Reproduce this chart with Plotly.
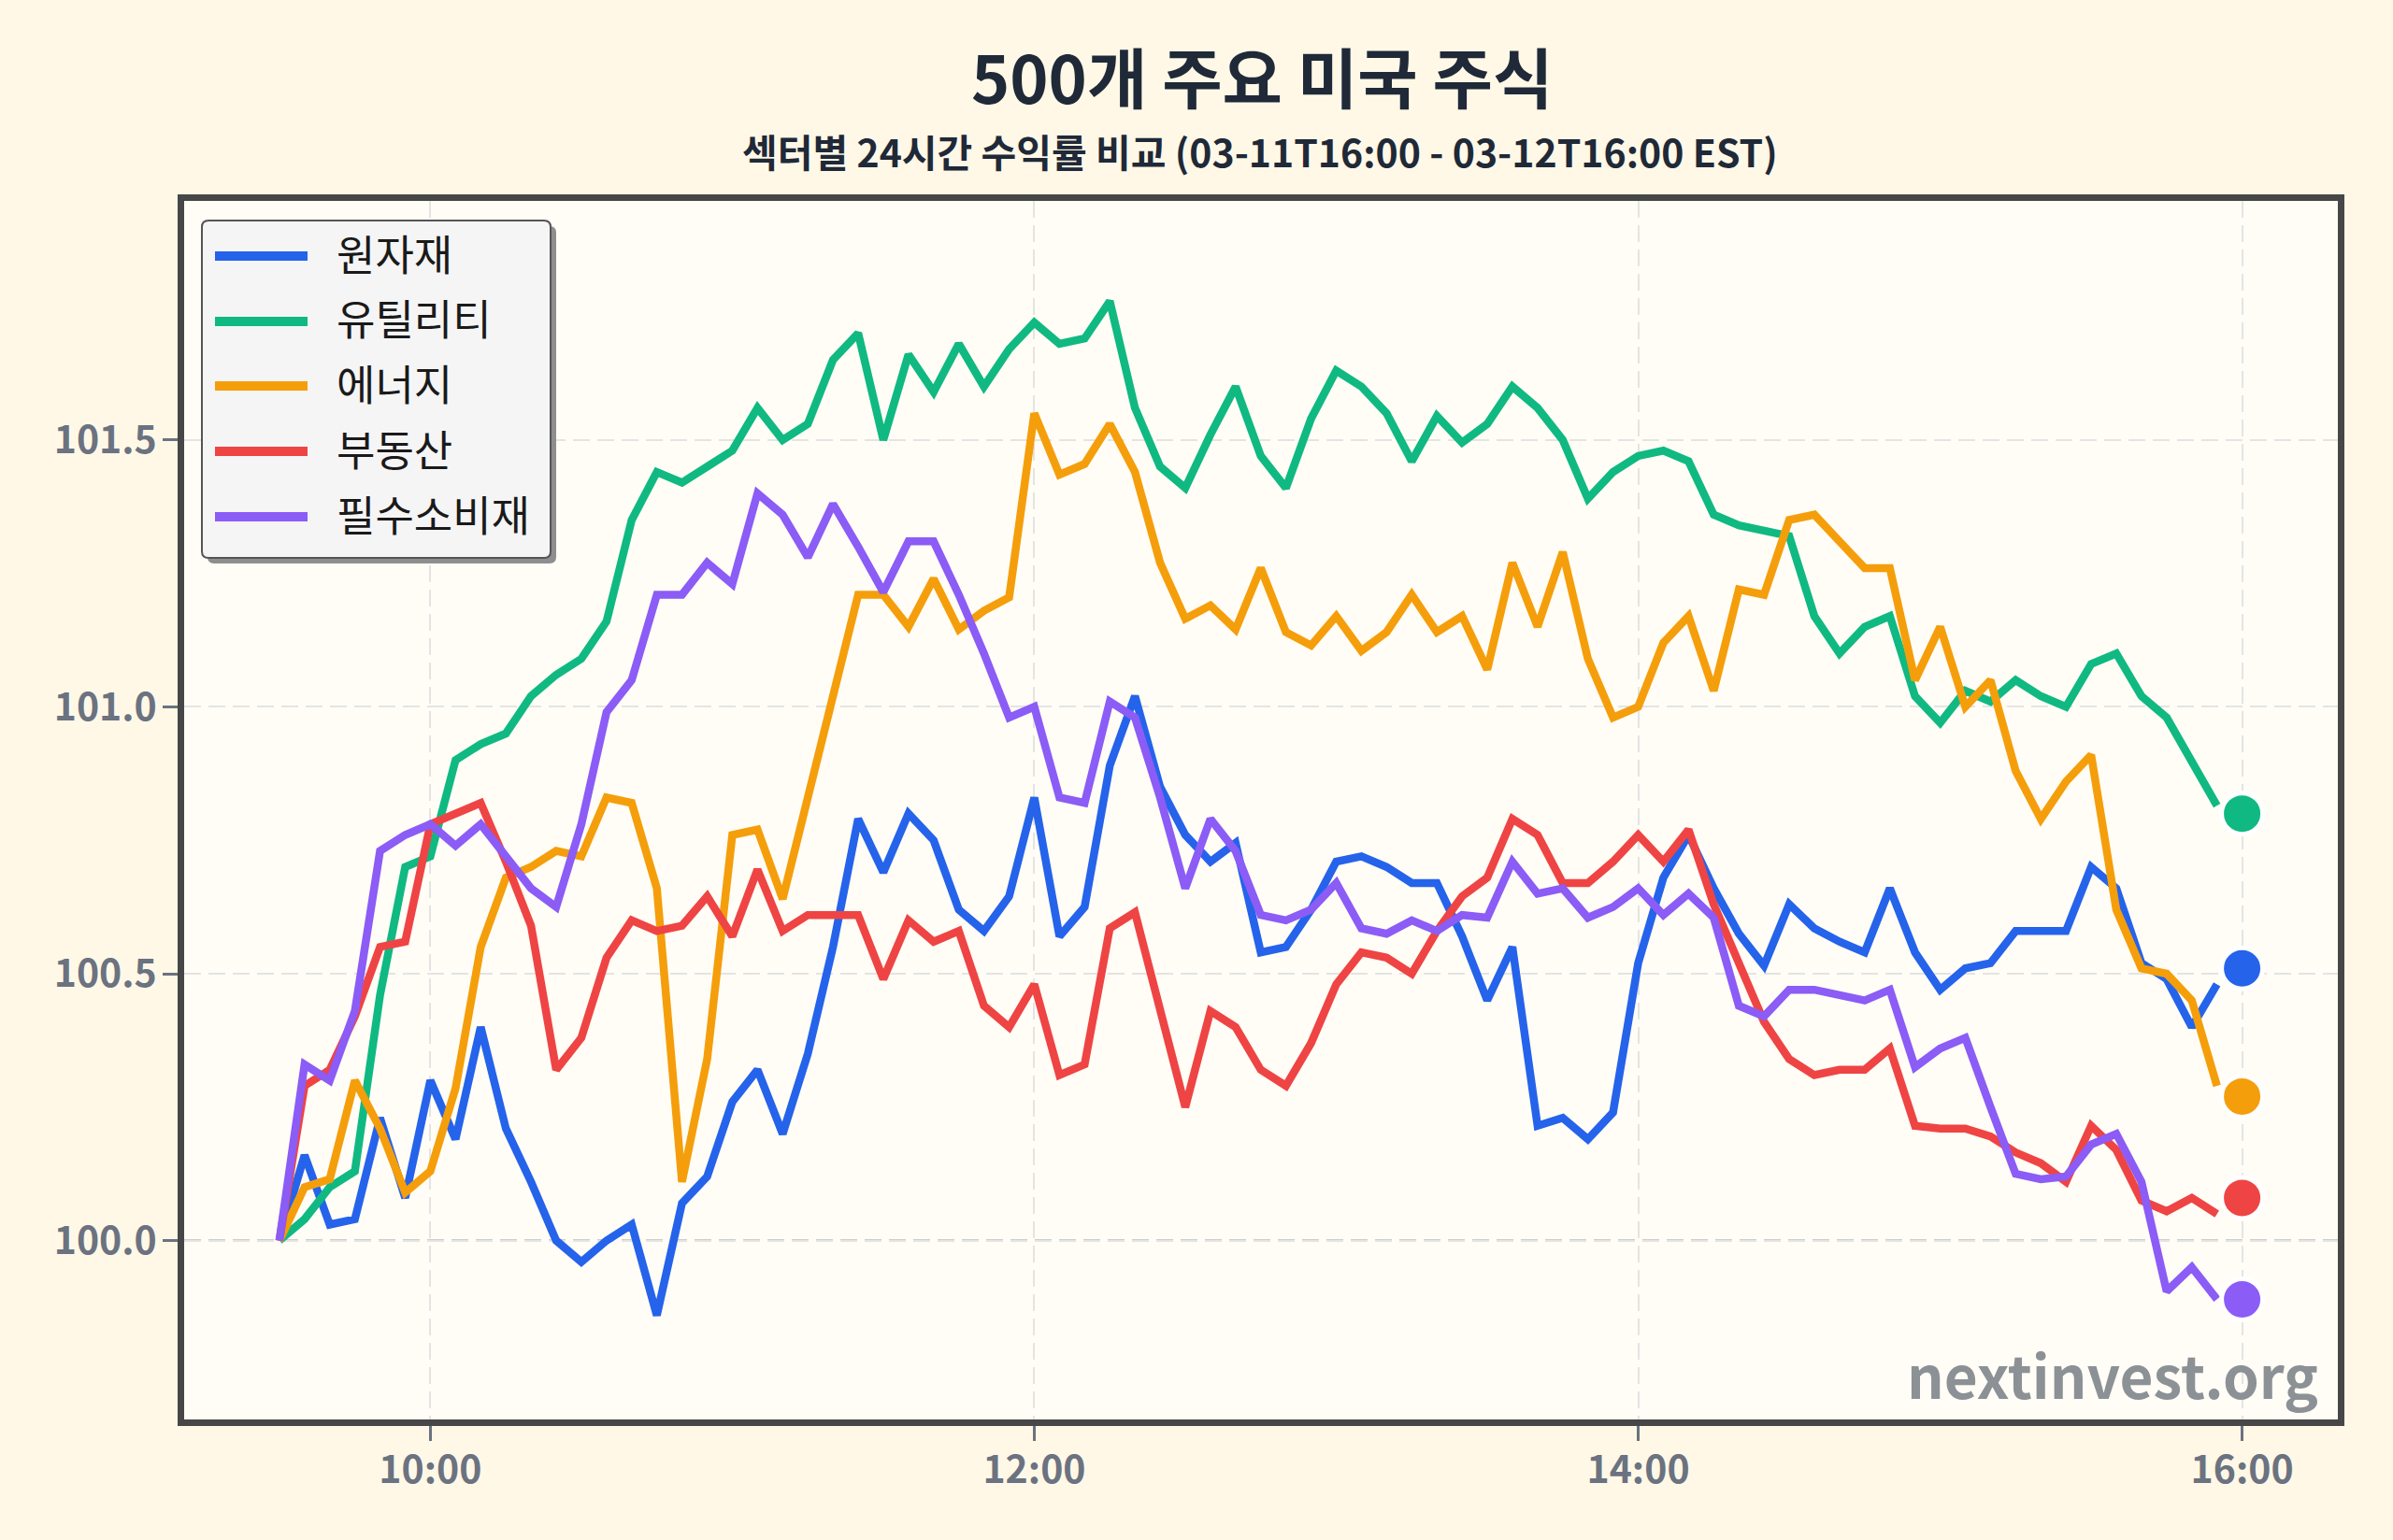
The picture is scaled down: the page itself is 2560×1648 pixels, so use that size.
import plotly.graph_objects as go
import pandas as pd

# ---------------- data ----------------
times = pd.date_range("2025-03-12 09:30", "2025-03-12 15:55", freq="5min")
close_time = pd.Timestamp("2025-03-12 16:00")

sectors = ["원자재", "유틸리티", "에너지", "부동산", "필수소비재"]
colors = ["#2563EB", "#10B981", "#F59E0B", "#EF4444", "#8B5CF6"]

materials = [100.00, 100.16, 100.03, 100.04, 100.23, 100.08, 100.30, 100.19, 100.40, 100.21,
             100.11, 100.00, 99.96, 100.00, 100.03, 99.86, 100.07, 100.12, 100.26, 100.32,
             100.20, 100.35, 100.55, 100.79, 100.69, 100.80, 100.75, 100.62, 100.58, 100.645,
             100.83, 100.57, 100.625, 100.89, 101.02, 100.85, 100.76, 100.71, 100.745, 100.54,
             100.55, 100.62, 100.71, 100.72, 100.70, 100.67, 100.67, 100.57, 100.45, 100.55,
             100.215, 100.23, 100.19, 100.24, 100.52, 100.68, 100.76, 100.66, 100.575, 100.515,
             100.63, 100.585, 100.56, 100.54, 100.66, 100.54, 100.47, 100.51, 100.52, 100.58,
             100.58, 100.58, 100.70, 100.66, 100.52, 100.49, 100.40, 100.48]

utilities = [100.00, 100.04, 100.10, 100.13, 100.46, 100.70, 100.72, 100.90, 100.93, 100.95,
             101.02, 101.06, 101.09, 101.16, 101.35, 101.44, 101.42, 101.45, 101.48, 101.56,
             101.50, 101.53, 101.65, 101.70, 101.50, 101.66, 101.59, 101.68, 101.60, 101.67,
             101.72, 101.68, 101.69, 101.76, 101.56, 101.45, 101.41, 101.51, 101.60, 101.47,
             101.41, 101.54, 101.63, 101.60, 101.55, 101.46, 101.545, 101.495, 101.53, 101.60,
             101.56, 101.50, 101.39, 101.44, 101.47, 101.48, 101.46, 101.36, 101.34, 101.33,
             101.32, 101.17, 101.10, 101.15, 101.17, 101.02, 100.97, 101.03, 101.01, 101.05,
             101.02, 101.00, 101.08, 101.10, 101.02, 100.98, 100.90, 100.815]

energy = [100.00, 100.10, 100.115, 100.30, 100.21, 100.09, 100.13, 100.285, 100.55, 100.68,
          100.70, 100.73, 100.72, 100.83, 100.82, 100.66, 100.11, 100.34, 100.76, 100.77,
          100.64, 100.83, 101.02, 101.21, 101.21, 101.15, 101.24, 101.145, 101.18, 101.205,
          101.55, 101.435, 101.455, 101.53, 101.44, 101.27, 101.165, 101.19, 101.145, 101.26,
          101.14, 101.115, 101.17, 101.105, 101.14, 101.21, 101.14, 101.17, 101.07, 101.27,
          101.15, 101.29, 101.09, 100.98, 101.00, 101.12, 101.17, 101.03, 101.22, 101.21,
          101.35, 101.36, 101.31, 101.26, 101.26, 101.05, 101.15, 101.00, 101.05, 100.88,
          100.79, 100.86, 100.91, 100.62, 100.51, 100.50, 100.45, 100.29]

real_estate = [100.00, 100.29, 100.32, 100.42, 100.55, 100.56, 100.78, 100.80, 100.82, 100.71,
               100.59, 100.32, 100.38, 100.53, 100.60, 100.58, 100.59, 100.645, 100.57, 100.695,
               100.58, 100.61, 100.61, 100.61, 100.49, 100.60, 100.56, 100.58, 100.44, 100.40,
               100.48, 100.31, 100.33, 100.585, 100.615, 100.43, 100.25, 100.43, 100.40, 100.32,
               100.29, 100.37, 100.48, 100.54, 100.53, 100.50, 100.58, 100.645, 100.68, 100.79,
               100.76, 100.67, 100.67, 100.71, 100.76, 100.71, 100.77, 100.63, 100.52, 100.41,
               100.34, 100.31, 100.32, 100.32, 100.36, 100.215, 100.21, 100.21, 100.195, 100.165,
               100.145, 100.11, 100.215, 100.17, 100.075, 100.055, 100.08, 100.05]

staples = [100.00, 100.33, 100.30, 100.43, 100.73, 100.76, 100.78, 100.74, 100.78, 100.72,
           100.66, 100.625, 100.78, 100.99, 101.05, 101.21, 101.21, 101.27, 101.23, 101.40,
           101.36, 101.28, 101.38, 101.30, 101.215, 101.31, 101.31, 101.21, 101.10, 100.98,
           101.00, 100.83, 100.82, 101.01, 100.98, 100.83, 100.66, 100.79, 100.73, 100.61,
           100.60, 100.62, 100.67, 100.585, 100.575, 100.60, 100.58, 100.61, 100.605, 100.71,
           100.65, 100.66, 100.605, 100.625, 100.66, 100.61, 100.65, 100.605, 100.44, 100.42,
           100.47, 100.47, 100.46, 100.45, 100.47, 100.325, 100.36, 100.38, 100.25, 100.125,
           100.115, 100.12, 100.18, 100.20, 100.11, 99.905, 99.95, 99.89]

final_values = [100.51, 100.80, 100.27, 100.08, 99.89]

series = [materials, utilities, energy, real_estate, staples]

x_tick_vals = [pd.Timestamp("2025-03-12 10:00"), pd.Timestamp("2025-03-12 12:00"),
               pd.Timestamp("2025-03-12 14:00"), pd.Timestamp("2025-03-12 16:00")]
y_tick_vals = [100.0, 100.5, 101.0, 101.5]

title_text = "500개 주요 미국 주식"
subtitle_text = "섹터별 24시간 수익률 비교 (03-11T16:00 - 03-12T16:00 EST)"
watermark = "nextinvest.org"

# ---------------- layout geometry (pixels) ----------------
FW, FH = 2560, 1648
PL, PR, PT, PB = 197, 2501, 215, 1519
PW, PH = PR - PL, PB - PT
FONT = "Noto Sans CJK KR"


def px(x):
    return (x - PL) / PW


def py(y):
    return (PB - y) / PH


# axis ranges from gridline pixel anchors
t10_px, t16_px = 460.4, 2398.6
per_hour = (t16_px - t10_px) / 6.0
base = pd.Timestamp("2025-03-12 10:00")
x_start = base + pd.Timedelta(hours=(PL - t10_px) / per_hour)
x_end = base + pd.Timedelta(hours=(PR - t10_px) / per_hour)

y100_px, per_unit = 1327.6, 571.2
y_top = 100 + (y100_px - PT) / per_unit
y_bot = 100 - (PB - y100_px) / per_unit

fig = go.Figure()

for name, vals, col in zip(sectors, series, colors):
    fig.add_trace(go.Scatter(x=times, y=vals, mode="lines", name=name,
                             line=dict(color=col, width=8.5), showlegend=False))

for name, v, col in zip(sectors, final_values, colors):
    fig.add_trace(go.Scatter(x=[close_time], y=[v], mode="markers", name=name,
                             marker=dict(color=col, size=44, line=dict(color="white", width=5)),
                             showlegend=False))

grid_dash = "18px,8px"
axis_common = dict(
    showline=True, mirror=True, linewidth=7, linecolor="#474747",
    ticks="outside", ticklen=16, tickwidth=3, tickcolor="#6B7280",
    tickfont=dict(family=FONT, size=41, color="#6B7280", weight="bold"),
    showgrid=True, gridcolor="#E4E4E4", gridwidth=2, griddash=grid_dash,
    zeroline=False,
)

fig.update_xaxes(type="date", range=[x_start, x_end], tickvals=x_tick_vals,
                 tickformat="%H:%M", ticklabelstandoff=-4, **axis_common)
fig.update_yaxes(range=[y_bot, y_top], tickvals=y_tick_vals, tickformat=".1f",
                 ticklabelstandoff=-2, **axis_common)

shapes = []
# baseline at 100
shapes.append(dict(type="line", xref="paper", x0=0, x1=1, yref="y", y0=100, y1=100,
                   line=dict(color="#BDBDBD", width=2.5, dash=grid_dash), layer="between"))


def rounded_rect(x0, y0, x1, y1, r):
    X0, X1 = px(x0), px(x1)
    Y0, Y1 = py(y0), py(y1)
    rx, ry = r / PW, r / PH
    return (f"M {X0+rx},{Y0} L {X1-rx},{Y0} Q {X1},{Y0} {X1},{Y0-ry} "
            f"L {X1},{Y1+ry} Q {X1},{Y1} {X1-rx},{Y1} "
            f"L {X0+rx},{Y1} Q {X0},{Y1} {X0},{Y1+ry} "
            f"L {X0},{Y0-ry} Q {X0},{Y0} {X0+rx},{Y0} Z")


# legend box: shadow + box
lg_x0, lg_y0, lg_x1, lg_y1 = 216, 236, 589, 597
shapes.append(dict(type="path", xref="paper", yref="paper",
                   path=rounded_rect(lg_x0 + 6, lg_y0 + 6, lg_x1 + 6, lg_y1 + 6, 7),
                   fillcolor="#8E8E8E", line=dict(width=0), layer="above"))
shapes.append(dict(type="path", xref="paper", yref="paper",
                   path=rounded_rect(lg_x0, lg_y0, lg_x1, lg_y1, 7),
                   fillcolor="#F5F5F6", line=dict(color="#555555", width=2), layer="above"))

item_y = [274, 344, 413, 483, 553]
annotations = []
for name, col, yy in zip(sectors, colors, item_y):
    shapes.append(dict(type="line", xref="paper", yref="paper",
                       x0=px(230), x1=px(329), y0=py(yy), y1=py(yy),
                       line=dict(color=col, width=10), layer="above"))
    annotations.append(dict(text=name, xref="paper", yref="paper", x=px(358), y=py(yy - 4),
                            xanchor="left", yanchor="middle", showarrow=False,
                            font=dict(family=FONT, size=45, color="#1A1A1A")))

annotations.append(dict(text=title_text, xref="paper", yref="paper", x=px(1350), y=py(80),
                        xanchor="center", yanchor="middle", showarrow=False,
                        font=dict(family=FONT, size=70, color="#1F2937", weight="bold")))
annotations.append(dict(text=subtitle_text, xref="paper", yref="paper", x=px(1348), y=py(161),
                        xanchor="center", yanchor="middle", showarrow=False,
                        font=dict(family=FONT, size=41, color="#1F2937", weight="bold")))
annotations.append(dict(text=watermark, xref="paper", yref="paper", x=px(2482), y=py(1470),
                        xanchor="right", yanchor="middle", showarrow=False,
                        font=dict(family=FONT, size=62, color="#8C9196", weight="bold")))

fig.update_layout(
    width=FW, height=FH,
    margin=dict(l=PL, r=FW - PR, t=PT, b=FH - PB, pad=0),
    paper_bgcolor="#FFF8E7", plot_bgcolor="#FFFDF6",
    font=dict(family=FONT),
    showlegend=False,
    shapes=shapes, annotations=annotations,
)

fig.write_html("out.html")
